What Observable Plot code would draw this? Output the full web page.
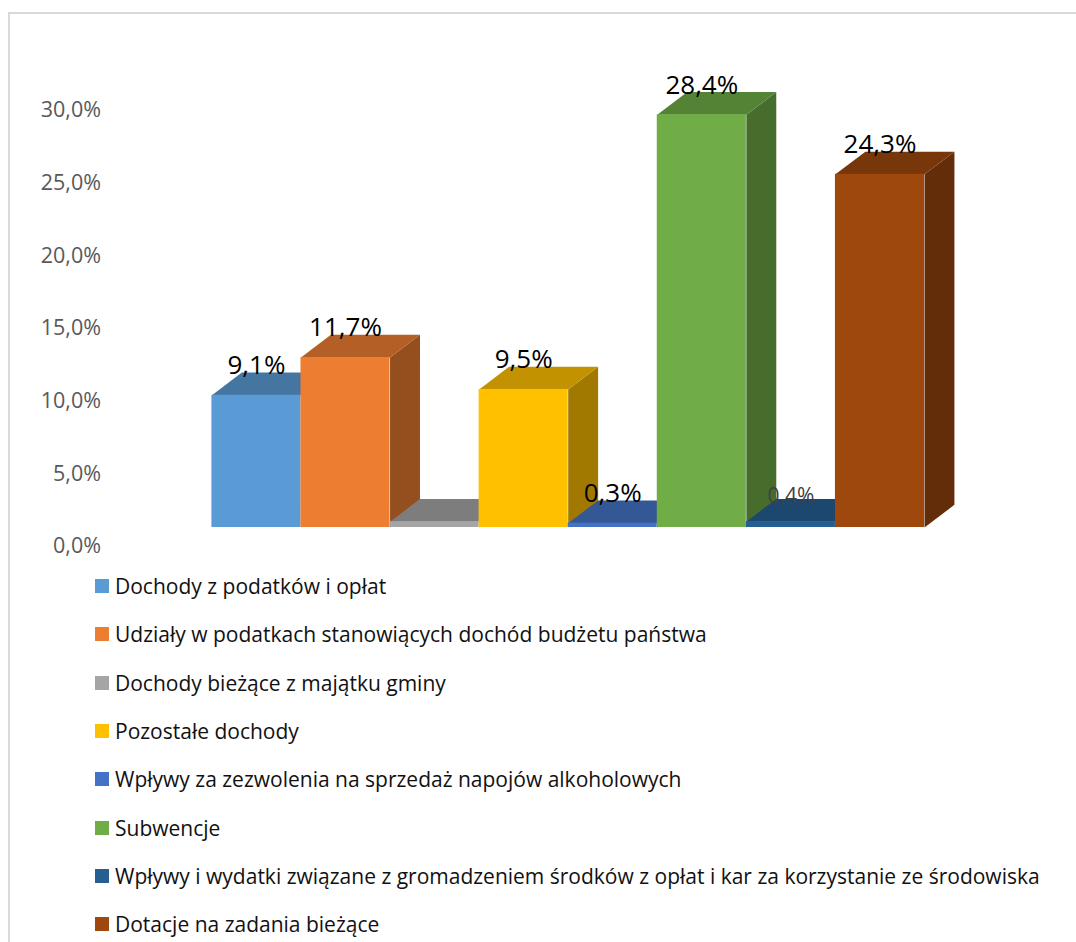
<!DOCTYPE html>
<html lang="pl">
<head>
<meta charset="utf-8">
<script src="https://cdn.jsdelivr.net/npm/d3@7"></script>
<script src="https://cdn.jsdelivr.net/npm/@observablehq/plot@0.6"></script>
<style>
html,body{margin:0;padding:0;background:#fff;overflow:hidden;}
body{width:1076px;height:942px;position:relative;font-family:"Open Sans",sans-serif;}
#frame{position:absolute;left:8px;top:12px;right:0;bottom:0;border-left:2px solid #d9d9d9;border-top:2px solid #d9d9d9;pointer-events:none;}
#chart{position:absolute;left:0;top:0;}
#chart svg{display:block;background:none;}
#legend{position:absolute;left:95px;top:562px;}
.item{height:48.3px;display:flex;align-items:center;white-space:nowrap;font-size:21px;color:#111;}
.sw{width:14px;height:14px;margin-right:6px;flex:none;}
</style>
</head>
<body>
<div id="frame"></div>
<div id="chart"></div>
<div id="legend"></div>
<script>
const categories = [
  "Dochody z podatków i opłat",
  "Udziały w podatkach stanowiących dochód budżetu państwa",
  "Dochody bieżące z majątku gminy",
  "Pozostałe dochody",
  "Wpływy za zezwolenia na sprzedaż napojów alkoholowych",
  "Subwencje",
  "Wpływy i wydatki związane z gromadzeniem środków z opłat i kar za korzystanie ze środowiska",
  "Dotacje na zadania bieżące"
];
const values = [9.1, 11.7, 0.4, 9.5, 0.3, 28.4, 0.4, 24.3];
const colors = ["#5B9BD5","#ED7D31","#A5A5A5","#FFC000","#4472C4","#70AD47","#255E91","#9E480E"];
const labelled = [true, true, false, true, true, true, false, true];
const faintLabelled = [false, false, false, false, false, false, true, false];
const yTicks = [0, 5, 10, 15, 20, 25, 30];

const depthX = 0.336, depthY = 1.56;
const shade = (c, k) => { const r = d3.rgb(c); return d3.rgb(r.r*k, r.g*k, r.b*k).formatHex(); };
const pct = v => v.toFixed(1).replace(".", ",") + "%";
const rows = values.map((v, i) => ({i, v, c: colors[i], name: categories[i]}));

const barMarks = rows.flatMap(({i, v, c}) => [
  Plot.line([[i+1,0],[i+1+depthX,depthY],[i+1+depthX,v+depthY],[i+1,v]],
    {x: d => d[0], y: d => d[1], fill: shade(c,0.63), stroke: "none", curve: "linear-closed"}),
  Plot.line([[i,v],[i+1,v],[i+1+depthX,v+depthY],[i+depthX,v+depthY]],
    {x: d => d[0], y: d => d[1], fill: shade(c,0.76), stroke: "none", curve: "linear-closed"}),
  Plot.rect([{i, v}], {x1: d => d.i, x2: d => d.i+1, y1: 0, y2: d => d.v, fill: c, inset: 0})
]);

const plot = Plot.plot({
  width: 1076, height: 560,
  marginLeft: 100.5, marginRight: 0, marginTop: 0, marginBottom: 33,
  style: {fontFamily: '"Open Sans",sans-serif', background: "none", overflow: "visible"},
  x: {type: "linear", domain: [0, 8], range: [211.4, 924], axis: null},
  y: {type: "linear", domain: [0, 36], range: [527, 3.8], axis: null},
  marks: [
    Plot.axisY({ticks: yTicks, tickFormat: pct, tickSize: 0, tickPadding: 0, dy: 19, label: null,
                fontSize: 21.5, fill: "#595959"}),
    ...barMarks,
    Plot.text(rows.filter(d => labelled[d.i]), {x: d => d.i + 0.5, y: "v", text: d => pct(d.v),
                dy: -29.5, fontSize: 26, fill: "#000"}),
    Plot.text(rows.filter(d => faintLabelled[d.i]), {x: d => d.i + 0.5, y: "v", text: d => pct(d.v),
                dy: -25, fontSize: 21, fill: "#404040"})
  ]
});
document.getElementById("chart").appendChild(plot);

const legend = d3.select("#legend");
rows.forEach(d => {
  const it = legend.append("div").attr("class", "item");
  it.append("span").attr("class", "sw").style("background", d.c);
  it.append("span").text(d.name);
});
</script>
</body>
</html>
